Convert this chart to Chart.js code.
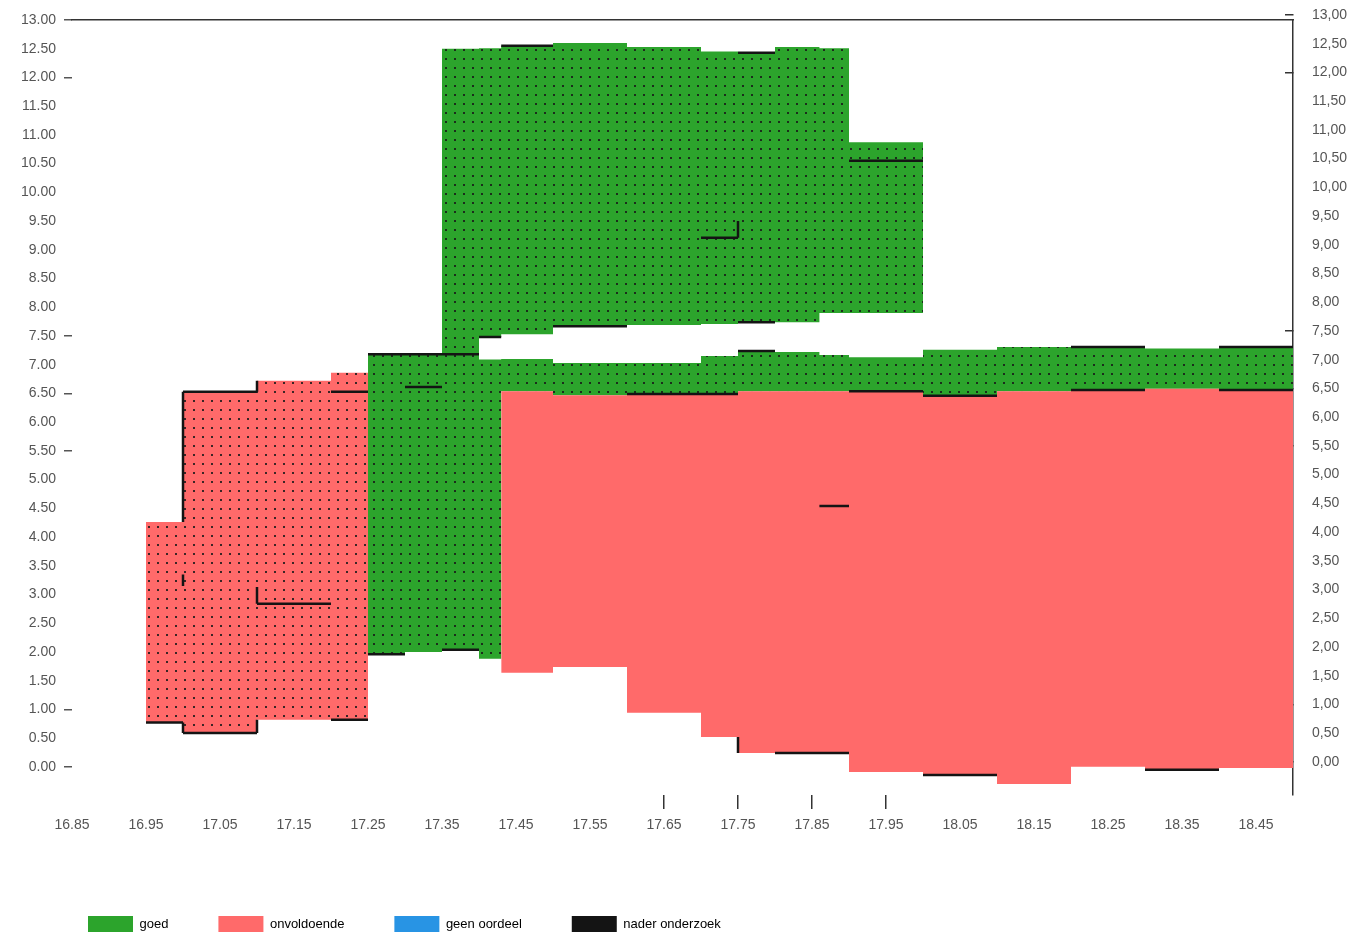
<!DOCTYPE html>
<html>
<head>
<meta charset="utf-8">
<script src="https://cdn.jsdelivr.net/npm/chart.js@4.4.1/dist/chart.umd.min.js"></script>
<style>
html,body{margin:0;padding:0;background:#fff;}
#wrap{width:1359px;height:937px;position:relative;}
</style>
</head>
<body>
<div id="wrap"><canvas id="c"></canvas></div>
<script>
// ---------------- data ----------------
const categories = ['goed', 'onvoldoende', 'geen oordeel', 'nader onderzoek'];
const xTicks = [16.85,16.95,17.05,17.15,17.25,17.35,17.45,17.55,17.65,17.75,17.85,17.95,18.05,18.15,18.25,18.35,18.45];
const yTicks = [0,0.5,1,1.5,2,2.5,3,3.5,4,4.5,5,5.5,6,6.5,7,7.5,8,8.5,9,9.5,10,10.5,11,11.5,12,12.5,13];
const yMarked = [0,1,5.5,6.5,7.5,12,13];
const xMarked = [17.65,17.75,17.85,17.95];

// onvoldoende, left block (dotted)
const redLeftX    = [16.95,17.00,17.10,17.20,17.25];
const redLeftLow  = [0.77,0.59,0.82,0.82];
const redLeftHigh = [4.26,6.53,6.72,6.86];

// onvoldoende, right block (plain)
const redRightX    = [17.43,17.50,17.60,17.70,17.75,17.80,17.86,17.90,18.00,18.10,18.20,18.30,18.40,18.50];
const redRightLow  = [1.64,1.74,0.94,0.52,0.24,0.24,0.24,-0.09,-0.14,-0.30,0.00,-0.05,-0.02];
const redRightHigh = [6.54,6.47,6.49,6.49,6.54,6.54,6.54,6.54,6.46,6.54,6.56,6.58,6.56];

// goed, lower band
const greenBandX       = [17.25,17.30,17.35,17.40,17.43,17.50,17.60,17.70,17.75,17.80,17.86,17.90,18.00,18.10,18.20,18.30,18.40,18.50];
const greenBandLowLeft = [1.96,2.00,2.04,1.88];
const greenBandHigh    = [7.18,7.18,7.18,7.09,7.10,7.03,7.03,7.15,7.24,7.22,7.17,7.13,7.26,7.31,7.31,7.28,7.31];

// goed, upper block
const greenTopX    = [17.35,17.40,17.43,17.50,17.60,17.70,17.75,17.80,17.86,17.90,18.00];
const greenTopLow  = [7.18,7.48,7.53,7.67,7.69,7.71,7.74,7.74,7.90,7.90];
const greenTopHigh = [12.50,12.51,12.55,12.60,12.53,12.45,12.43,12.53,12.51,10.87];

// nader onderzoek marks: [x1, y1, x2, y2]
const naderSegments = [
  [16.95,0.77,17.00,0.77],[17.00,0.77,17.00,0.59],[17.00,0.59,17.10,0.59],[17.10,0.59,17.10,0.82],
  [17.20,0.82,17.25,0.82],[17.00,4.26,17.00,6.53],[17.00,6.53,17.10,6.53],[17.10,6.53,17.10,6.72],
  [17.20,6.53,17.25,6.53],[17.00,3.15,17.00,3.35],[17.10,3.13,17.10,2.84],[17.10,2.84,17.20,2.84],
  [17.25,7.18,17.40,7.18],[17.30,6.61,17.35,6.61],[17.25,1.96,17.30,1.96],[17.35,2.04,17.40,2.04],
  [17.40,7.48,17.43,7.48],[17.43,12.55,17.50,12.55],[17.75,12.43,17.80,12.43],[17.50,7.67,17.60,7.67],
  [17.75,7.74,17.80,7.74],[17.90,10.55,18.00,10.55],[17.70,9.21,17.75,9.21],[17.75,9.21,17.75,9.50],
  [17.75,7.24,17.80,7.24],[18.20,7.31,18.30,7.31],[18.40,7.31,18.50,7.31],[17.60,6.49,17.75,6.49],
  [17.90,6.54,18.00,6.54],[18.00,6.46,18.10,6.46],[18.20,6.56,18.30,6.56],[18.40,6.56,18.50,6.56],
  [17.86,4.54,17.90,4.54],[17.75,0.52,17.75,0.24],[17.80,0.24,17.90,0.24],[18.00,-0.14,18.10,-0.14],
  [18.30,-0.05,18.40,-0.05]
];

// ---------------- styling ----------------
const GREEN = 'rgb(44,164,44)';
const RED = 'rgb(255,106,106)';
const BLUE = 'rgb(40,148,228)';
const BLACK = '#141414';
const FONT = '"Liberation Sans", Arial, sans-serif';
const TEXT = '#555';

const mainCtx = document.getElementById('c').getContext('2d');
function dotPattern(base) {
  const c = document.createElement('canvas');
  c.width = 9; c.height = 9;
  const g = c.getContext('2d');
  g.fillStyle = base; g.fillRect(0, 0, 9, 9);
  g.fillStyle = 'rgba(25,25,25,0.85)'; g.fillRect(4, 4, 2, 2);
  return mainCtx.createPattern(c, 'repeat');
}

function steps(xs, ys) {
  const pts = ys.map((y, i) => ({x: xs[i], y: y}));
  pts.push({x: xs[xs.length - 1], y: ys[ys.length - 1]});
  return pts;
}
function band(label, xs, low, high, bg) {
  const common = {stepped: true, borderWidth: 0, pointRadius: 0, borderColor: 'rgba(0,0,0,0)'};
  return [
    Object.assign({label: label + ' (onder)', data: steps(xs, low), fill: false}, common),
    Object.assign({label: label, data: steps(xs, high), fill: '-1', backgroundColor: bg}, common)
  ];
}

const naderData = [];
naderSegments.forEach(([x1, y1, x2, y2]) => {
  naderData.push({x: x1, y: y1}, {x: x2, y: y2}, {x: x2, y: null});
});

const datasets = [
  ...band('onvoldoende', redLeftX, redLeftLow, redLeftHigh, dotPattern(RED)),
  ...band('onvoldoende', redRightX, redRightLow, redRightHigh, RED),
  ...band('goed', greenBandX, greenBandLowLeft.concat(redRightHigh), greenBandHigh, dotPattern(GREEN)),
  ...band('goed', greenTopX, greenTopLow, greenTopHigh, dotPattern(GREEN)),
  {label: 'nader onderzoek', data: naderData, borderColor: BLACK, borderWidth: 2.5, pointRadius: 0,
   fill: false, spanGaps: false, stepped: false, order: -1}
];

const near = (arr, v) => arr.some(a => Math.abs(a - v) < 1e-6);

const legendShift = {
  id: 'legendShift',
  afterLayout(chart) {
    if (chart.legend) { chart.legend.left = 38; chart.legend.top = 866; }
  }
};

function fixVertical(width) {
  return s => { s.width = width; s.paddingTop = 0; s.paddingBottom = 0; };
}

new Chart(mainCtx, {
  type: 'line',
  data: {datasets: datasets},
  plugins: [legendShift],
  options: {
    responsive: true,
    maintainAspectRatio: false,
    animation: false,
    events: [],
    layout: {padding: {top: 20, left: 0, right: 0, bottom: 0}},
    plugins: {
      tooltip: {enabled: false},
      legend: {
        position: 'bottom',
        align: 'start',
        labels: {
          boxWidth: 45, boxHeight: 16, padding: 50,
          font: {family: FONT, size: 13}, color: '#333',
          generateLabels: () => [GREEN, RED, BLUE, BLACK].map((col, i) => ({
            text: categories[i], fillStyle: col, strokeStyle: col, lineWidth: 0, hidden: false
          }))
        }
      }
    },
    scales: {
      x: {
        type: 'linear', position: 'bottom', min: 16.85, max: 18.50,
        afterBuildTicks: s => { s.ticks = xTicks.map(v => ({value: v})); },
        afterFit: s => { s.height = 142 - (s.chart.legend ? s.chart.legend.height : 0); s.paddingLeft = 0; s.paddingRight = 0; },
        ticks: {autoSkip: false, maxRotation: 0, padding: 8, color: TEXT,
                font: {family: FONT, size: 14}, callback: v => Number(v).toFixed(2)},
        grid: {display: true, drawOnChartArea: false, drawTicks: true, tickLength: 14, lineWidth: 1.5,
               color: c => (c.tick && near(xMarked, c.tick.value)) ? '#333' : 'rgba(0,0,0,0)'},
        border: {display: false}
      },
      xTop: {
        type: 'linear', position: 'top', min: 16.85, max: 18.50,
        ticks: {display: false}, grid: {display: false, drawTicks: false},
        border: {display: true, color: '#333', width: 1.5},
        afterFit: s => { s.height = 0; s.paddingLeft = 0; s.paddingRight = 0; }
      },
      y: {
        type: 'linear', position: 'left', min: -0.49, max: 13,
        afterBuildTicks: s => { s.ticks = yTicks.map(v => ({value: v})); },
        afterFit: fixVertical(72),
        ticks: {autoSkip: false, padding: 8, color: TEXT, font: {family: FONT, size: 14},
                callback: v => Number(v).toFixed(2)},
        grid: {display: true, drawOnChartArea: false, drawTicks: true, tickLength: 8, lineWidth: 1.5,
               color: c => (c.tick && near(yMarked, c.tick.value)) ? '#555' : 'rgba(0,0,0,0)'},
        border: {display: false}
      },
      yR: {
        type: 'linear', position: 'right', min: -0.577, max: 12.913,
        afterBuildTicks: s => { s.ticks = yTicks.map(v => ({value: v})); },
        afterFit: fixVertical(66),
        ticks: {autoSkip: false, padding: 27, color: TEXT, font: {family: FONT, size: 14},
                callback: v => Number(v).toFixed(2).replace('.', ',')},
        grid: {display: true, drawOnChartArea: false, drawTicks: true, tickLength: -8, lineWidth: 1.5,
               color: c => (c.tick && near(yMarked, c.tick.value)) ? '#333' : 'rgba(0,0,0,0)'},
        border: {display: true, color: '#333', width: 1.5}
      }
    }
  }
});
</script>
</body>
</html>
